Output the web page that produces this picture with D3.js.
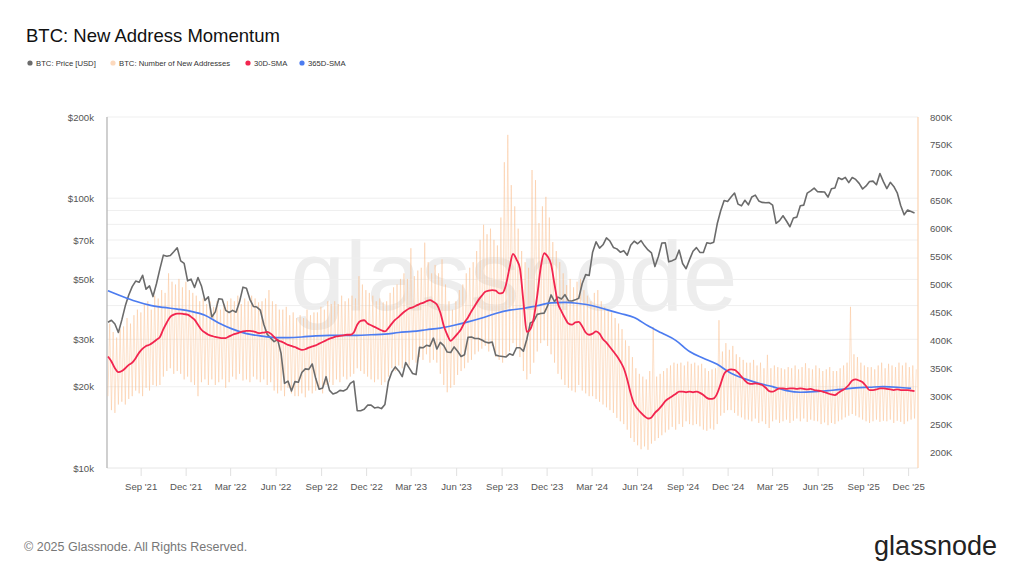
<!DOCTYPE html>
<html>
<head>
<meta charset="utf-8">
<script src="https://cdn.jsdelivr.net/npm/d3@7"></script>
<style>
  html, body { margin: 0; padding: 0; background: #fff; }
  svg { display: block; font-family: "Liberation Sans", Arial, sans-serif; }
</style>
</head>
<body>
<svg width="1024" height="576"></svg>
<script>
// weekly samples, first week starts Sun 27 Jun 2021
const weekStart = new Date(Date.UTC(2021, 5, 27));

// BTC price [USD, thousands], weekly
const price = [
  34.7, 35.3, 34.2, 31.8, 35.4, 39.9, 43.8, 47.0, 49.3, 48.8, 51.8, 46.0, 47.3, 43.2,
  48.2, 54.7, 61.5, 60.9, 61.3, 63.3, 65.5, 58.6, 57.3, 49.4, 50.1, 46.7, 50.8,
  // 2022
  47.3, 41.8, 43.1, 36.3, 37.9, 42.4, 42.2, 38.4, 37.7, 38.4, 37.8, 41.3, 46.8,
  46.4, 42.2, 39.7, 39.5, 38.5, 34.1, 31.3, 30.3, 29.4, 29.9, 26.6, 20.6, 21.0,
  19.3, 20.9, 20.8, 22.6, 23.3, 23.2, 24.3, 21.5, 19.6, 19.8, 21.8, 19.4, 18.8,
  19.0, 19.4, 19.3, 19.6, 20.6, 21.0, 16.3, 16.3, 16.5, 17.1, 17.1, 16.7, 16.8,
  // 2023
  16.6, 17.2, 20.9, 22.7, 23.7, 22.9, 21.8, 24.6, 23.5, 22.4, 22.2, 28.0, 27.9,
  28.5, 28.3, 30.3, 27.6, 29.2, 28.4, 26.9, 26.8, 28.1, 27.1, 25.9, 26.3, 30.5,
  30.6, 30.2, 30.2, 29.8, 29.3, 29.1, 29.3, 26.2, 26.0, 25.9, 25.8, 26.5, 26.2,
  27.9, 27.9, 27.1, 30.0, 34.5, 35.0, 37.1, 37.4, 37.5, 39.9, 43.8, 41.4, 43.0, 42.3,
  // 2024
  43.9, 41.7, 41.6, 42.0, 42.6, 48.3, 52.1, 51.7, 63.1, 68.9, 65.3, 67.2, 71.3,
  69.4, 65.7, 64.9, 63.1, 63.9, 61.5, 66.9, 69.3, 67.8, 69.6, 66.6, 64.3, 62.7,
  55.8, 60.8, 68.2, 68.3, 58.1, 58.7, 59.5, 64.2, 57.3, 54.8, 59.2, 63.6, 65.6,
  63.0, 62.9, 68.4, 67.9, 68.7, 80.4, 89.8, 98.0, 97.2, 101.0, 104.5, 95.1, 93.7,
  // 2025
  98.3, 94.5, 101.1, 102.7, 97.7, 96.5, 96.2, 96.3, 94.2, 80.7, 82.6, 86.1, 82.3,
  78.4, 84.5, 85.1, 93.8, 94.3, 104.5, 106.5, 109.0, 105.7, 105.6, 105.5, 100.9, 108.4,
  109.2, 119.1, 117.3, 119.4, 114.2, 119.3, 117.4, 113.5, 108.2, 111.1, 115.3, 115.7, 112.2,
  123.5, 115.2, 108.6, 114.5, 110.6, 104.7, 94.0, 86.8, 90.4, 89.3, 88.2
];

// number of new addresses [thousands]: weekday high and weekend low per week
const addrHigh = [
  430, 415, 405, 420, 425, 440, 430, 445, 455, 450, 465, 470, 455, 480, 475,
  490, 485, 520, 505, 500, 510, 495, 505, 490, 485, 480, 470, 475, 465, 470,
  460, 470, 455, 465, 470, 475, 470, 480, 465, 475, 470, 480, 475, 468, 470,
  475, 490, 470, 465, 455, 455, 460, 445, 450, 440, 445, 440, 455, 445, 450,
  450, 460, 455, 470, 465, 470, 465, 480, 470, 475, 480, 475, 515, 500, 490,
  485, 480, 470, 475, 468, 470, 485, 495, 500, 510, 520, 510, 565, 515, 525,
  530, 575, 540, 520, 535, 520, 545, 500, 470, 455, 470, 490, 500, 520, 530,
  540, 560, 580, 607, 590, 600, 580, 570, 620, 719, 768, 678, 640, 600, 560,
  540, 530, 705, 687, 610, 640, 657, 620, 576, 560, 540, 520, 499, 510, 495,
  505, 510, 490, 480, 470, 485, 490, 470, 460, 455, 450, 440, 430, 420, 400,
  390, 370, 350, 340, 335, 330, 345, 424, 335, 340, 345, 350, 355, 360, 358,
  360, 355, 362, 358, 360, 355, 358, 350, 345, 348, 350, 436, 380, 395, 383,
  390, 375, 370, 365, 360, 360, 365, 355, 360, 350, 374, 350, 355, 352, 350,
  348, 352, 350, 355, 348, 352, 359, 350, 348, 355, 350, 345, 348, 352, 345,
  345, 350, 355, 360, 460, 375, 370, 360, 355, 352, 352, 348, 355, 360, 350,
  358, 355, 352, 360, 355, 360, 352, 355, 348
];
const addrLow = [
  300, 275, 270, 285, 290, 285, 295, 300, 310, 305, 300, 315, 310, 320, 318,
  320, 335, 345, 350, 340, 345, 340, 330, 335, 325, 320, 300, 325, 330, 320,
  330, 320, 325, 330, 315, 325, 335, 330, 340, 328, 330, 325, 335, 330, 325,
  330, 320, 325, 310, 305, 310, 300, 315, 305, 300, 300, 305, 298, 310, 305,
  310, 315, 305, 320, 325, 320, 330, 325, 335, 330, 335, 340, 350, 345, 340,
  335, 330, 325, 330, 320, 325, 335, 350, 345, 355, 350, 360, 355, 365, 360,
  370, 365, 375, 360, 365, 360, 340, 320, 307, 315, 320, 338, 345, 350, 360,
  365, 375, 380, 385, 390, 380, 390, 370, 365, 360, 370, 380, 395, 385, 370,
  345, 330, 340, 360, 380, 395, 400, 390, 375, 360, 340, 330, 320, 315, 310,
  307, 320, 310, 305, 300, 300, 295, 290, 285, 280, 275, 270, 261, 255, 250,
  240, 225, 218, 212, 205, 210, 204, 215, 220, 225, 230, 235, 240, 245, 240,
  250, 245, 255, 250, 248, 250, 246, 240, 238, 242, 240, 250, 265, 270, 275,
  275, 270, 265, 262, 258, 258, 255, 260, 252, 255, 250, 243, 255, 258, 252,
  255, 258, 252, 256, 260, 255, 260, 254, 258, 256, 255, 250, 253, 248, 252,
  250, 255, 258, 262, 265, 268, 265, 262, 258, 255, 252, 255, 258, 254, 256,
  255, 258, 252, 256, 254, 250, 255, 258, 260
];

// 30D-SMA of new addresses [thousands], weekly
const sma30 = [
  371, 362, 350, 343, 345, 350, 356, 360, 368, 378, 385, 390, 392, 396, 401,
  406, 420, 432, 442, 446, 448, 448, 447, 446, 442, 437, 428, 419, 414, 410,
  408, 406, 405, 404, 404, 407, 410, 412, 414, 416, 417, 417, 416, 414, 413,
  414, 415, 412, 406, 400, 398, 395, 392, 390, 388, 385, 383, 384, 387, 389,
  391, 394, 397, 400, 403, 405, 407, 408, 409, 410, 410, 414, 428, 435, 436,
  430, 427, 424, 421, 418, 416, 422, 430, 437, 442, 448, 453, 457, 459, 462,
  465, 467, 470, 472, 469, 464, 450, 426, 410, 399, 405, 412, 420, 432, 441,
  452, 462, 472, 480, 487, 489, 490, 489, 484, 485, 500, 530, 555, 545, 529,
  470, 415, 420, 440, 480, 530, 556, 550, 536, 500, 466, 452, 440, 430, 428,
  432, 433, 425, 414, 410, 412, 416, 412, 402, 396, 388, 380, 372, 362, 350,
  330, 305, 286, 277, 270, 264, 260, 262, 270, 276, 283, 291, 296, 300, 304,
  308, 308, 307, 308, 307, 308, 306, 302, 297, 295, 296, 305, 322, 340, 346,
  348, 347, 342, 335, 328, 323, 322, 323, 322, 320, 315, 309, 308, 311, 314,
  314, 313, 314, 314, 313, 314, 313, 312, 313, 311, 310, 309, 307, 305, 303,
  302, 306, 310, 314, 320, 328, 330, 328, 325, 318, 311, 311, 312, 314, 314,
  313, 312, 311, 312, 311, 311, 311, 310, 309
];

// 365D-SMA of new addresses [thousands], every 4 weeks
const sma365 = [
  489, 479, 470, 463, 459, 456, 452, 445, 431, 420, 412, 408, 405, 405, 406,
  408, 409, 409, 409, 410, 411, 414, 416, 419, 422, 427, 433, 440, 448, 454,
  457, 462, 467, 468, 466, 462, 455, 448, 441, 426, 413, 400, 380, 368, 357,
  341, 331, 323, 317, 310, 307, 308, 310, 312, 315, 316, 317, 316, 314
];

const leftTicks = [10000, 20000, 30000, 50000, 70000, 100000, 200000];
const leftGrid = [20000, 30000, 40000, 50000, 60000, 70000, 80000, 90000, 100000, 200000];
const rightTicks = [200, 250, 300, 350, 400, 450, 500, 550, 600, 650, 700, 750, 800];

const legendItems = [
  { label: "BTC: Price [USD]", color: "#6b6b6b", x: 30 },
  { label: "BTC: Number of New Addresses", color: "#fcd9bd", x: 113 },
  { label: "30D-SMA", color: "#f2254f", x: 248 },
  { label: "365D-SMA", color: "#4c7cf0", x: 302 }
];

const svg = d3.select("svg");
const plotL = 107, plotR = 918, plotT = 117, plotB = 468;

const week = i => d3.utcDay.offset(weekStart, i * 7);

const x = d3.scaleUtc()
    .domain([new Date(Date.UTC(2021, 5, 25)), new Date(Date.UTC(2025, 11, 21))])
    .range([plotL, plotR]);
const yPrice = d3.scaleLog().domain([10000, 200000]).range([plotB, plotT]);
const yAddr = d3.scaleLinear().domain([200, 800]).range([452, plotT]);

// title + legend
svg.append("text")
    .attr("x", 26).attr("y", 42)
    .attr("font-size", 18.5).attr("fill", "#111")
    .text("BTC: New Address Momentum");

const leg = svg.append("g").attr("font-size", 7.7).attr("fill", "#333");
legendItems.forEach(d => {
    leg.append("circle").attr("cx", d.x).attr("cy", 63).attr("r", 2.6).attr("fill", d.color);
    leg.append("text").attr("x", d.x + 6).attr("y", 65.8).text(d.label);
});

// watermark
svg.append("text")
    .attr("x", 514).attr("y", 310)
    .attr("text-anchor", "middle")
    .attr("font-size", 98)
    .attr("fill", "#ededed")
    .text("glassnode");

// grid
svg.append("g").selectAll("line")
    .data(leftGrid)
    .join("line")
    .attr("x1", plotL).attr("x2", plotR)
    .attr("y1", d => yPrice(d)).attr("y2", d => yPrice(d))
    .attr("stroke", "#efefef").attr("stroke-width", 1);

// axes lines
svg.append("line").attr("x1", plotL).attr("x2", plotR).attr("y1", plotB).attr("y2", plotB)
    .attr("stroke", "#e6e6e6");
svg.append("line").attr("x1", plotL).attr("x2", plotL).attr("y1", plotT).attr("y2", plotB)
    .attr("stroke", "#b0b0b0").attr("stroke-width", 1.2);
svg.append("line").attr("x1", plotR).attr("x2", plotR).attr("y1", plotT).attr("y2", plotB)
    .attr("stroke", "#fcd3b0").attr("stroke-width", 1.2);

// x axis
const xTicks = d3.utcMonth.range(new Date(Date.UTC(2021, 8, 1)), x.domain()[1], 3);
const xAxis = d3.axisBottom(x).tickValues(xTicks).tickFormat(d3.utcFormat("%b '%y"))
    .tickSize(8).tickPadding(7);
const gx = svg.append("g").attr("transform", `translate(0,${plotB})`).call(xAxis);
gx.select(".domain").remove();
gx.selectAll(".tick line").attr("stroke", "#e0e0e0");
gx.selectAll(".tick text").attr("fill", "#555").attr("font-size", 9.6)
    .attr("font-family", "Liberation Sans, Arial, sans-serif");

// left axis
const fmtK = d => "$" + (d / 1000) + "k";
const gl = svg.append("g").attr("transform", `translate(${plotL - 13},0)`)
    .call(d3.axisLeft(yPrice).tickValues(leftTicks).tickFormat(fmtK).tickSize(0).tickPadding(0));
gl.select(".domain").remove();
gl.selectAll(".tick text").attr("fill", "#555").attr("font-size", 9.6)
    .attr("font-family", "Liberation Sans, Arial, sans-serif");

// right axis
const gr = svg.append("g").attr("transform", `translate(${plotR + 12},0)`)
    .call(d3.axisRight(yAddr).tickValues(rightTicks).tickFormat(d => d + "K").tickSize(0).tickPadding(0));
gr.select(".domain").remove();
gr.selectAll(".tick text").attr("fill", "#555").attr("font-size", 9.6)
    .attr("font-family", "Liberation Sans, Arial, sans-serif");

// new addresses: weekend low, weekday high
const addrPts = [];
addrLow.forEach((lo, i) => {
    addrPts.push([week(i), lo]);
    addrPts.push([d3.utcHour.offset(week(i), 84), addrHigh[i]]);
});

const plot = svg.append("g");
plot.append("path")
    .datum(addrPts)
    .attr("fill", "none")
    .attr("stroke", "#fbbf8f")
    .attr("stroke-opacity", 0.45)
    .attr("stroke-width", 1)
    .attr("d", d3.line().x(d => x(d[0])).y(d => yAddr(d[1])));

plot.append("path")
    .datum(price)
    .attr("fill", "none")
    .attr("stroke", "#6b6b6b")
    .attr("stroke-width", 1.6)
    .attr("stroke-linejoin", "round")
    .attr("d", d3.line().x((d, i) => x(week(i))).y(d => yPrice(d * 1000)));

plot.append("path")
    .datum(sma365)
    .attr("fill", "none")
    .attr("stroke", "#4c7cf0")
    .attr("stroke-width", 1.7)
    .attr("d", d3.line().curve(d3.curveMonotoneX).x((d, i) => x(week(i * 4))).y(d => yAddr(d)));

plot.append("path")
    .datum(sma30)
    .attr("fill", "none")
    .attr("stroke", "#f2254f")
    .attr("stroke-width", 1.8)
    .attr("stroke-linejoin", "round")
    .attr("d", d3.line().curve(d3.curveMonotoneX).x((d, i) => x(week(i))).y(d => yAddr(d)));

// footer
svg.append("text")
    .attr("x", 24).attr("y", 551)
    .attr("font-size", 12.5).attr("fill", "#777")
    .text("© 2025 Glassnode. All Rights Reserved.");
svg.append("text")
    .attr("x", 997).attr("y", 555)
    .attr("text-anchor", "end")
    .attr("font-size", 27).attr("fill", "#222")
    .text("glassnode");
</script>
</body>
</html>
